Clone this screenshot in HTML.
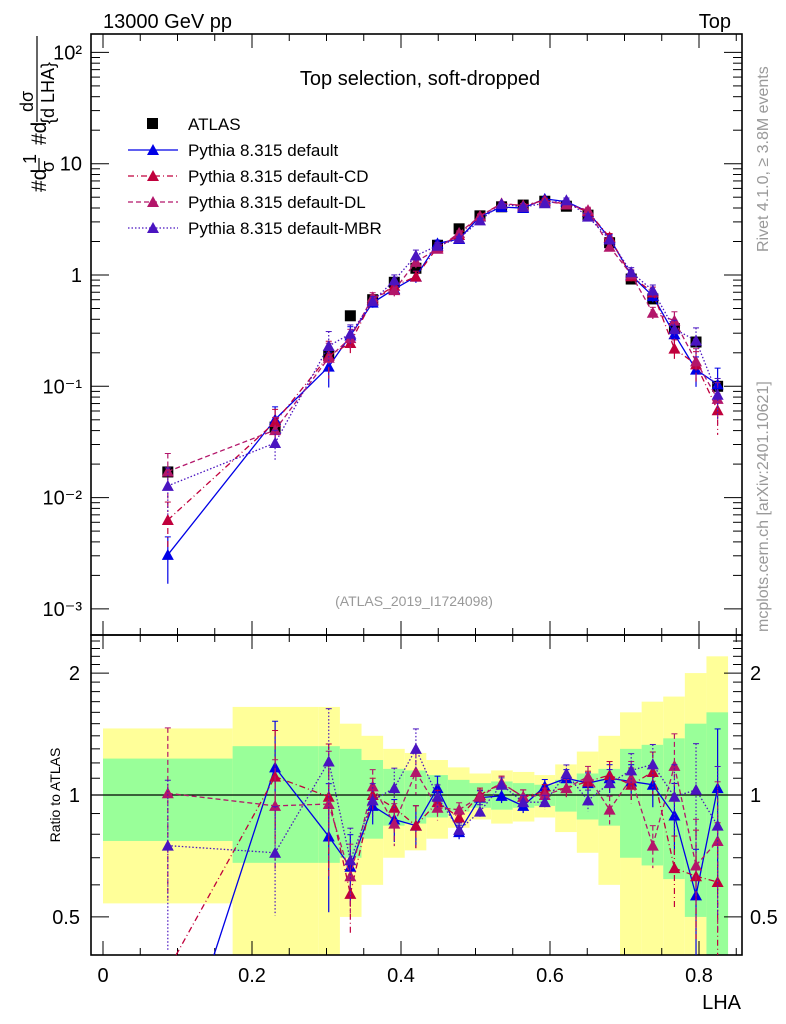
<!DOCTYPE html>
<html><head><meta charset="utf-8"><style>
html,body{margin:0;padding:0;background:#fff;width:786px;height:1024px;overflow:hidden}
svg{display:block;font-family:"Liberation Sans",sans-serif}
</style></head><body>
<svg id="c" width="786" height="1024" viewBox="0 0 786 1024" xmlns="http://www.w3.org/2000/svg">
<g id="bands"></g>
<g id="axes"></g>
<g id="series"></g>
<text x="103" y="28" font-size="20">13000 GeV pp</text>
<text x="731" y="28" font-size="20" text-anchor="end">Top</text>
<text x="420" y="85" font-size="20" text-anchor="middle">Top selection, soft-dropped</text>
<text x="414" y="606" font-size="14" fill="#999" text-anchor="middle">(ATLAS_2019_I1724098)</text>
<text transform="translate(768,252) rotate(-90)" font-size="16" fill="#999">Rivet 4.1.0, ≥ 3.8M events</text>
<text transform="translate(768,632) rotate(-90)" font-size="16" fill="#999">mcplots.cern.ch [arXiv:2401.10621]</text>
<g font-size="21">
<text transform="translate(46,192) rotate(-90)">#d</text>
<text transform="translate(36,164) rotate(-90)" font-size="18">1</text>
<line x1="39" y1="172" x2="39" y2="158" stroke="#000" stroke-width="1.2"/>
<text transform="translate(54,172) rotate(-90)" font-size="18">σ</text>
<text transform="translate(46,145) rotate(-90)">#d</text>
<text transform="translate(33,112) rotate(-90)" font-size="18">dσ</text>
<line x1="37" y1="122" x2="37" y2="36" stroke="#000" stroke-width="1.2"/>
<text transform="translate(54,124) rotate(-90)" font-size="18">{d LHA}</text>
</g>
<g font-size="17">
<rect x="147" y="118" width="11" height="11" fill="#000"/>
<text x="188" y="130">ATLAS</text>
<line x1="128" y1="150" x2="178" y2="150" stroke="#0000e6" stroke-width="1.3"/>
<polygon points="153,144 147,155 159,155" fill="#0000e6"/>
<text x="188" y="156">Pythia 8.315 default</text>
<line x1="128" y1="176" x2="178" y2="176" stroke="#c0003c" stroke-width="1.3" stroke-dasharray="6,3,1,3"/>
<polygon points="153,170 147,181 159,181" fill="#c0003c"/>
<text x="188" y="182">Pythia 8.315 default-CD</text>
<line x1="128" y1="202" x2="178" y2="202" stroke="#b3166a" stroke-width="1.3" stroke-dasharray="5,3"/>
<polygon points="153,196 147,207 159,207" fill="#b3166a"/>
<text x="188" y="208">Pythia 8.315 default-DL</text>
<line x1="128" y1="228" x2="178" y2="228" stroke="#4a14c0" stroke-width="1.3" stroke-dasharray="1.5,2"/>
<polygon points="153,222 147,233 159,233" fill="#4a14c0"/>
<text x="188" y="234">Pythia 8.315 default-MBR</text>
</g>
</svg>
<script>
const binEdges=[0,0.174,0.289,0.318,0.347,0.376,0.405,0.434,0.463,0.492,0.521,0.550,0.579,0.607,0.636,0.665,0.694,0.723,0.752,0.781,0.810,0.839];
const centers=[0.087,0.231,0.303,0.332,0.362,0.391,0.420,0.449,0.478,0.506,0.535,0.564,0.593,0.622,0.651,0.680,0.709,0.738,0.767,0.796,0.825];
const atlas=[0.017,0.043,0.19,0.43,0.6,0.86,1.15,1.85,2.6,3.4,4.1,4.25,4.6,4.15,3.45,1.95,0.92,0.61,0.33,0.25,0.1];
const bandGreen=[0.23,0.32,0.32,0.30,0.22,0.16,0.15,0.12,0.09,0.07,0.08,0.07,0.06,0.09,0.13,0.16,0.30,0.33,0.38,0.50,0.60];
const bandYellow=[0.46,0.65,0.65,0.50,0.40,0.30,0.27,0.22,0.17,0.13,0.15,0.14,0.12,0.19,0.28,0.40,0.60,0.70,0.75,1.0,1.2];
const ratioDefault=[0.18,1.17,0.79,0.665,0.94,0.87,0.84,1.04,0.81,0.985,0.995,0.94,1.05,1.10,1.07,1.10,1.08,1.06,0.89,0.565,1.04];
const ratioCD=[0.37,1.11,0.99,0.57,1.0,0.93,0.84,0.96,0.88,1.0,1.07,0.99,1.02,1.04,1.08,1.12,1.06,1.14,0.66,0.63,0.61];
const ratioDL=[1.01,0.94,0.95,0.63,1.05,0.85,1.14,0.93,0.92,0.99,1.07,0.99,1.0,1.04,1.11,0.92,1.10,0.75,1.18,0.67,0.77];
const ratioMBR=[0.75,0.72,1.21,0.69,0.97,1.04,1.30,0.99,0.82,0.91,1.06,0.96,0.96,1.13,0.97,1.07,1.15,1.19,0.99,1.03,0.84];
const mcRelErr=[0.45,0.3,0.35,0.2,0.1,0.12,0.12,0.07,0.04,0.04,0.04,0.04,0.04,0.05,0.06,0.08,0.1,0.12,0.2,0.3,0.4];
const xTicks=[0,0.2,0.4,0.6,0.8];
const xTickLabels=["0","0.2","0.4","0.6","0.8"];
const yExps=[2,1,0,-1,-2,-3];
const yLabels=["10²","10","1","10⁻¹","10⁻²","10⁻³"];
const rTicks=[0.5,1,2];
const rTickLabels=["0.5","1","2"];

const NS="http://www.w3.org/2000/svg";
const L=91,R=742,T=34,MB=635,RB=955;
const X=v=>103+v*745;
const Y=v=>275-111.3*Math.log10(v);
const YR=r=>795-405*Math.log10(r);
function el(tag,a,p){const e=document.createElementNS(NS,tag);for(const k in a)e.setAttribute(k,a[k]);p.appendChild(e);return e;}
const bands=document.getElementById('bands'),axes=document.getElementById('axes'),ser=document.getElementById('series');
const clampY=(y,t,b)=>Math.min(Math.max(y,t),b);
for(let i=0;i<centers.length;i++){
  const x0=X(binEdges[i]),x1=X(binEdges[i+1]);
  const yh=clampY(YR(1+bandYellow[i]),MB,RB),yl=clampY(YR(Math.max(1-bandYellow[i],0.01)),MB,RB);
  const ry=el('rect',{x:x0,y:yh,width:x1-x0,height:yl-yh,fill:'#ffff99'},bands);
  
  
  const gh=clampY(YR(1+bandGreen[i]),MB,RB),gl=clampY(YR(1-bandGreen[i]),MB,RB);
  const rg=el('rect',{x:x0,y:gh,width:x1-x0,height:gl-gh,fill:'#99ff99'},bands);
  
  
}
el('rect',{x:L,y:T,width:R-L,height:MB-T,fill:'none',stroke:'#000','stroke-width':1.6},axes);
el('rect',{x:L,y:MB,width:R-L,height:RB-MB,fill:'none',stroke:'#000','stroke-width':1.6},axes);
el('line',{x1:L,y1:YR(1),x2:R,y2:YR(1),stroke:'#000','stroke-width':1.3},axes);
for(let v=0;v<=0.851;v+=0.05){
  const major=Math.abs(v/0.2-Math.round(v/0.2))<1e-6, len=major?14:7, x=X(v);
  for(const yb of [MB,RB]) el('line',{x1:x,y1:yb,x2:x,y2:yb-len,stroke:'#000'},axes);
  el('line',{x1:x,y1:T,x2:x,y2:T+len,stroke:'#000'},axes);
  el('line',{x1:x,y1:MB,x2:x,y2:MB+len,stroke:'#000'},axes);
}
xTicks.forEach((v,i)=>{const t=el('text',{x:X(v),y:982,'font-size':20,'text-anchor':'middle'},axes);t.textContent=xTickLabels[i];

});
const xt=el('text',{x:741,y:1009,'font-size':20,'text-anchor':'end'},axes);xt.textContent='LHA';


yExps.forEach((e,i)=>{
  const y=Y(Math.pow(10,e));
  if(y>T+1){for(const [a,b] of [[L,L+18],[R,R-18]]) el('line',{x1:a,y1:y,x2:b,y2:y,stroke:'#000'},axes);}
  for(let m=2;m<10;m++){const ym=Y(m*Math.pow(10,e));if(ym>T&&ym<MB){for(const [a,b] of [[L,L+9],[R,R-9]]) el('line',{x1:a,y1:ym,x2:b,y2:ym,stroke:'#000'},axes);}}
  const t=el('text',{x:82,y:y+7,'font-size':20,'text-anchor':'end'},axes);t.textContent=yLabels[i];
  
  
});
for(let r=0.4;r<=2.45;r+=0.1){const y=YR(r);if(y<MB||y>RB)continue;const maj=[0.5,1,2].some(q=>Math.abs(q-r)<1e-6);const len=maj?18:9;
  el('line',{x1:L,y1:y,x2:L+len,y2:y,stroke:'#000'},axes);el('line',{x1:R,y1:y,x2:R-len,y2:y,stroke:'#000'},axes);}
rTicks.forEach((r,i)=>{for(const [x,a] of [[80,'end'],[750,'start']]){const t=el('text',{x:x,y:YR(r)+7,'font-size':20,'text-anchor':a},axes);t.textContent=rTickLabels[i];

}});
const rl=el('text',{transform:'translate(60,795) rotate(-90)','font-size':14,'text-anchor':'middle'},axes);rl.textContent='Ratio to ATLAS';



const ga=el('g',{},ser);


atlas.forEach((v,i)=>{const r=el('rect',{x:X(centers[i])-5.5,y:Y(v)-5.5,width:11,height:11,fill:'#000'},ga);

});
function clipSeg(x1,y1,x2,y2,t,b){
  // clip segment to t<=y<=b
  let u0=0,u1=1;const dy=y2-y1;
  if(dy===0){return (y1<t||y1>b)?null:[x1,y1,x2,y2];}
  const ut=(t-y1)/dy,ub=(b-y1)/dy;const lo=Math.min(ut,ub),hi=Math.max(ut,ub);
  u0=Math.max(u0,lo);u1=Math.min(u1,hi);if(u0>=u1)return null;
  return [x1+(x2-x1)*u0,y1+dy*u0,x1+(x2-x1)*u1,y1+dy*u1];
}
const series=[
 {n:'default',r:ratioDefault,c:'#0000e6',d:''},
 {n:'cd',r:ratioCD,c:'#c0003c',d:'6,3,1,3'},
 {n:'dl',r:ratioDL,c:'#b3166a',d:'5,3'},
 {n:'mbr',r:ratioMBR,c:'#4a14c0',d:'1.5,2'}];
series.forEach(s=>{
  for(const [panel,fy,vals,t,b] of [['main',Y,s.r.map((r,i)=>r*atlas[i]),T,MB],['ratio',YR,s.r,MB,RB]]){
    const g=el('g',{},ser);
    
    
    let d='';
    for(let i=0;i+1<vals.length;i++){
      const c=clipSeg(X(centers[i]),fy(vals[i]),X(centers[i+1]),fy(vals[i+1]),t,b);
      if(c)d+=`M${c[0]},${c[1]}L${c[2]},${c[3]}`;
    }
    const pl=el('path',{d:d,fill:'none',stroke:s.c,'stroke-width':1.3,'stroke-dasharray':s.d},g);
    
    
    vals.forEach((v,i)=>{const x=X(centers[i]),e=mcRelErr[i];
      const y=fy(v);if(y>b||y<t)return;
      const yt=clampY(fy(v*(1+e)),t,b),yb=clampY(fy(Math.max(v*(1-e),1e-4)),t,b);
      el('line',{x1:x,y1:yt,x2:x,y2:yb,stroke:s.c,'stroke-width':1.2,'stroke-dasharray':s.d},g);
      el('line',{x1:x-3,y1:yt,x2:x+3,y2:yt,stroke:s.c},g);
      const tr=el('polygon',{points:`${x},${y-6} ${x-6},${y+5} ${x+6},${y+5}`,fill:s.c},g);
      
      
    });
  }
});
</script>
</body></html>
